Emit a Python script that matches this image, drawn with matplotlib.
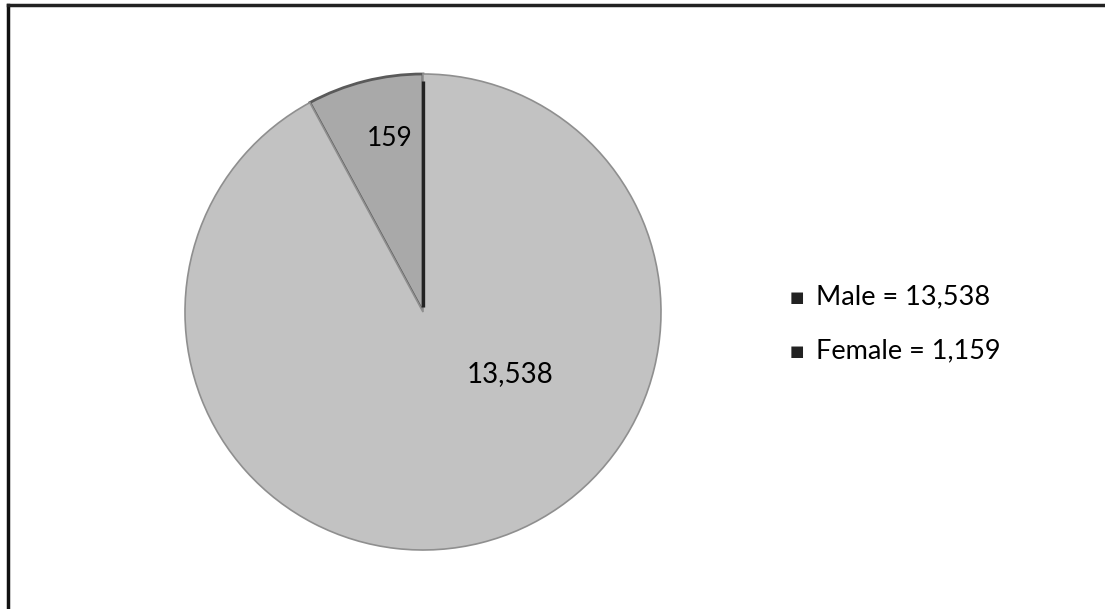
import numpy as np
import matplotlib
matplotlib.use("Agg")
import matplotlib.pyplot as plt
from matplotlib.lines import Line2D

labels = ["Male", "Female"]
values = [13538, 1159]
slice_text = ["13,538", "159"]
legend_text = ["Male = 13,538", "Female = 1,159"]
colors = ["#c2c2c2", "#a9a9a9"]

W, H = 1105, 609
fig = plt.figure(figsize=(W / 100, H / 100), dpi=100)
fig.patch.set_facecolor("white")

# pie axes: centre (423, 312) px, radius 238 px
cx, cy, r = 423, 312, 238
ax = fig.add_axes([(cx - r) / W, (H - cy - r) / H, 2 * r / W, 2 * r / H])

# female first so it sits just left of 12 o'clock
wedges, _ = ax.pie(values[::-1], colors=colors[::-1], startangle=90,
                   counterclock=True, radius=1.0,
                   wedgeprops=dict(edgecolor="#8f8f8f", linewidth=1.2))
wedges[0].set_edgecolor("#5a5a5a")
wedges[0].set_linewidth(2.0)
ax.set_xlim(-1, 1)
ax.set_ylim(-1, 1)
ax.set_aspect("equal")
ax.axis("off")

# dark vertical leader line at 12 o'clock
ax.plot([0, 0], [0.02, 0.97], color="#222222", linewidth=2.4, solid_capstyle="butt")

font = "Lato"
ax.text(-0.14, 0.73, slice_text[1], fontsize=19, family=font, ha="center", va="center")
ax.text(0.365, -0.26, slice_text[0], fontsize=20, family=font, ha="center", va="center")

# legend
for i, t in enumerate(legend_text):
    y = 1 - (297 + i * 54) / H
    fig.text(797 / W, y, "\u25a0", fontsize=11, color="#222222", ha="center", va="center",
             family="DejaVu Sans")
    fig.text(816 / W, y, t, fontsize=19.5, family=font, ha="left", va="center")

# frame lines (left and top)
fig.add_artist(Line2D([8 / W, 8 / W], [0, 1 - 4.5 / H], color="#111111", linewidth=2.5,
                      transform=fig.transFigure))
fig.add_artist(Line2D([8 / W, 1], [1 - 4.5 / H, 1 - 4.5 / H], color="#222222", linewidth=2.5,
                      transform=fig.transFigure))

fig.savefig("out.png", dpi=100)
